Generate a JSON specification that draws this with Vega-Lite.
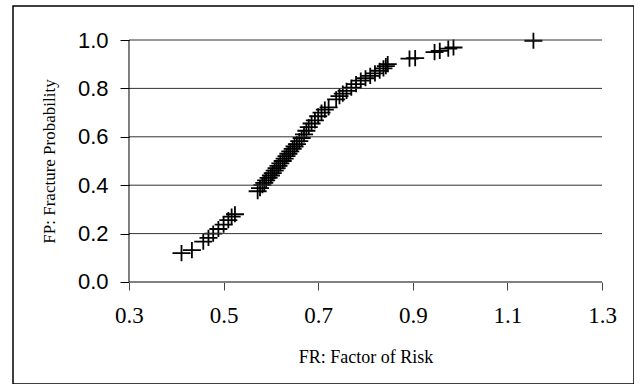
{
  "$schema": "https://vega.github.io/schema/vega-lite/v6.json",
  "autosize": {"type": "none"},
  "padding": {"left": 13, "top": 6, "right": 0, "bottom": 0},
  "width": 621,
  "height": 378,
  "background": "white",
  "config": {"view": {"stroke": "black", "strokeWidth": 1.5}},
  "datasets": {
    "points": [
      {"FR": 0.411, "FP": 0.119}, {"FR": 0.433, "FP": 0.132}, {"FR": 0.457, "FP": 0.167},
      {"FR": 0.468, "FP": 0.182}, {"FR": 0.478, "FP": 0.200}, {"FR": 0.489, "FP": 0.219},
      {"FR": 0.500, "FP": 0.237}, {"FR": 0.510, "FP": 0.256}, {"FR": 0.517, "FP": 0.270},
      {"FR": 0.524, "FP": 0.280},
      {"FR": 0.572, "FP": 0.375}, {"FR": 0.577, "FP": 0.388}, {"FR": 0.582, "FP": 0.400},
      {"FR": 0.586, "FP": 0.410}, {"FR": 0.590, "FP": 0.420}, {"FR": 0.595, "FP": 0.430},
      {"FR": 0.600, "FP": 0.440}, {"FR": 0.604, "FP": 0.450}, {"FR": 0.608, "FP": 0.460},
      {"FR": 0.612, "FP": 0.470}, {"FR": 0.616, "FP": 0.480}, {"FR": 0.620, "FP": 0.490},
      {"FR": 0.625, "FP": 0.500}, {"FR": 0.629, "FP": 0.510}, {"FR": 0.633, "FP": 0.520},
      {"FR": 0.637, "FP": 0.530}, {"FR": 0.641, "FP": 0.540}, {"FR": 0.646, "FP": 0.550},
      {"FR": 0.650, "FP": 0.560}, {"FR": 0.655, "FP": 0.570}, {"FR": 0.660, "FP": 0.582},
      {"FR": 0.665, "FP": 0.595}, {"FR": 0.670, "FP": 0.610}, {"FR": 0.675, "FP": 0.625},
      {"FR": 0.680, "FP": 0.640}, {"FR": 0.686, "FP": 0.655}, {"FR": 0.693, "FP": 0.668},
      {"FR": 0.700, "FP": 0.685}, {"FR": 0.707, "FP": 0.700}, {"FR": 0.714, "FP": 0.712},
      {"FR": 0.722, "FP": 0.722}, {"FR": 0.738, "FP": 0.755}, {"FR": 0.745, "FP": 0.768},
      {"FR": 0.752, "FP": 0.778}, {"FR": 0.760, "FP": 0.790}, {"FR": 0.770, "FP": 0.803},
      {"FR": 0.780, "FP": 0.818}, {"FR": 0.790, "FP": 0.832}, {"FR": 0.800, "FP": 0.842},
      {"FR": 0.810, "FP": 0.852}, {"FR": 0.820, "FP": 0.862}, {"FR": 0.830, "FP": 0.873},
      {"FR": 0.838, "FP": 0.883}, {"FR": 0.843, "FP": 0.892}, {"FR": 0.847, "FP": 0.900},
      {"FR": 0.893, "FP": 0.923}, {"FR": 0.905, "FP": 0.925}, {"FR": 0.946, "FP": 0.950},
      {"FR": 0.957, "FP": 0.955}, {"FR": 0.975, "FP": 0.964}, {"FR": 0.986, "FP": 0.969},
      {"FR": 1.155, "FP": 0.997}
    ],
    "grid": [{"p": 0.2}, {"p": 0.4}, {"p": 0.6}, {"p": 0.8}, {"p": 1.0}]
  },
  "layer": [
    {
      "data": {"name": "points"},
      "mark": {"type": "point", "shape": "M-1,0H1M0,-0.9V0.9", "size": 324,
               "filled": false, "color": "black", "strokeWidth": 1.8, "opacity": 1, "zindex": 2},
      "encoding": {
        "x": {"field": "FR", "type": "quantitative", "title": "FR: Factor of Risk",
              "scale": {"domain": [0.05476, 1.36765], "nice": false, "zero": false},
              "axis": {"orient": "bottom", "offset": -102, "values": [0.3, 0.5, 0.7, 0.9, 1.1, 1.3],
                       "format": ".1f", "domain": false, "grid": false,
                       "ticks": true, "tickSize": 8, "tickColor": "#444444",
                       "labelFont": "Liberation Serif", "labelFontSize": 23, "labelColor": "black",
                       "labelPadding": 14, "labelOverlap": false, "labelFlush": false,
                       "titleFont": "Liberation Serif", "titleFontSize": 18, "titleFontWeight": "normal",
                       "titleColor": "black", "titleX": 352.5, "titleY": 80,
                       "titleAlign": "center", "titleBaseline": "alphabetic"}},
        "y": {"field": "FP", "type": "quantitative", "title": "FP: Fracture Probability",
              "scale": {"domain": [-0.4215, 1.1405], "nice": false, "zero": false},
              "axis": {"orient": "left", "offset": -116, "values": [0, 0.2, 0.4, 0.6, 0.8, 1.0],
                       "format": ".1f", "domain": false, "grid": false,
                       "ticks": true, "tickSize": 9, "tickColor": "black",
                       "labelFont": "Liberation Sans", "labelFontSize": 22, "labelColor": "black",
                       "labelPadding": 12, "labelOverlap": false,
                       "titleFont": "Liberation Serif", "titleFontSize": 17, "titleFontWeight": "normal",
                       "titleColor": "black", "titleX": -80, "titleY": 155, "titleAngle": 270,
                       "titleAlign": "center", "titleBaseline": "middle"}}
      }
    },
    {
      "data": {"name": "grid"},
      "mark": {"type": "rule", "color": "#333333", "strokeWidth": 1},
      "encoding": {
        "y": {"field": "p", "type": "quantitative", "title": "FP: Fracture Probability"},
        "x": {"datum": 0.3, "type": "quantitative"},
        "x2": {"datum": 1.3}
      }
    },
    {
      "data": {"values": [{}]},
      "mark": {"type": "rule", "color": "#808080", "strokeWidth": 2},
      "encoding": {
        "y": {"datum": 0, "type": "quantitative"},
        "x": {"datum": 0.3, "type": "quantitative"},
        "x2": {"datum": 1.3}
      }
    },
    {
      "data": {"values": [{}]},
      "mark": {"type": "rule", "color": "#000000", "strokeWidth": 1},
      "encoding": {
        "x": {"datum": 0.3, "type": "quantitative"},
        "y": {"datum": 0, "type": "quantitative"},
        "y2": {"datum": 1.0}
      }
    }
  ]
}
